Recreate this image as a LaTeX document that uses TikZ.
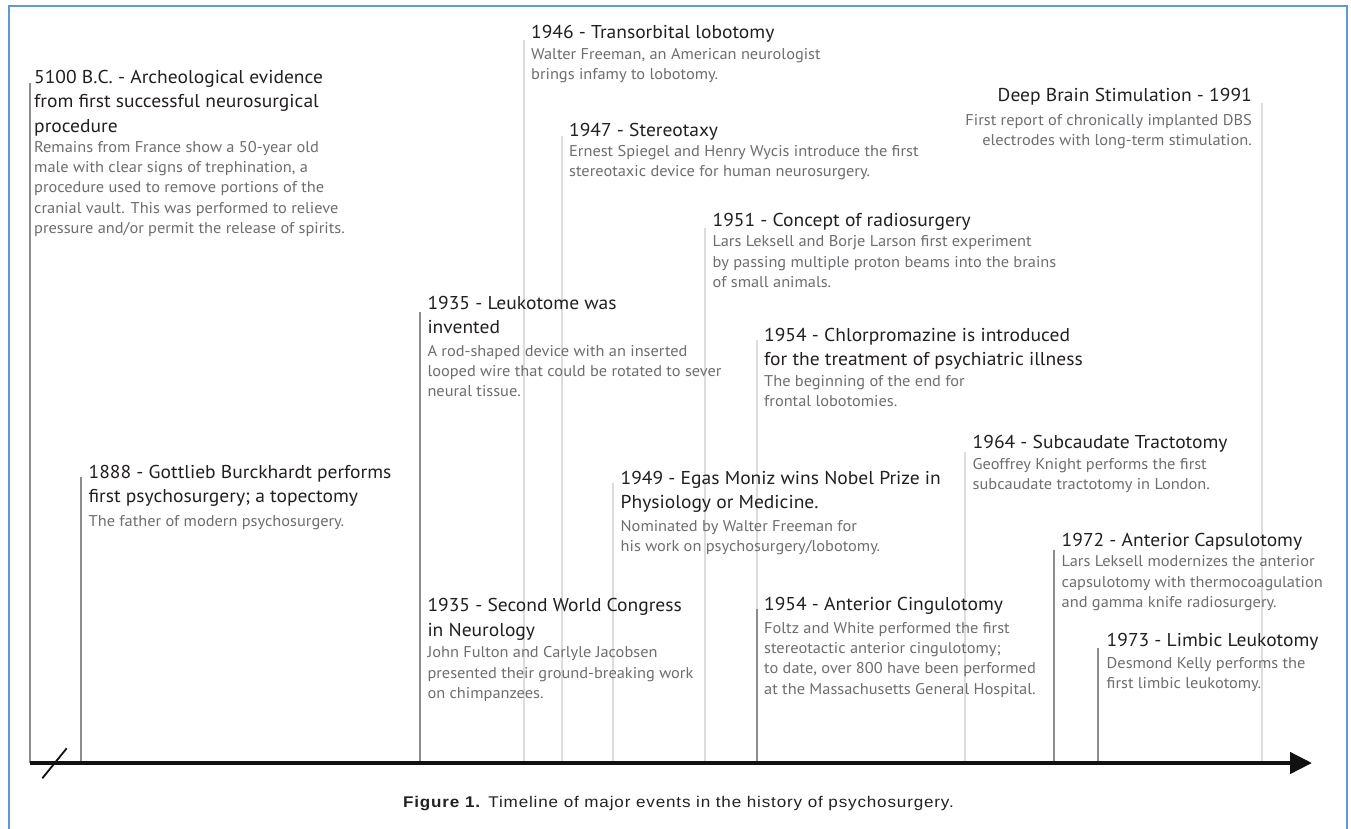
\documentclass[tikz,border=0pt]{standalone}
\usepackage{fontspec}
\usepackage{graphicx}
\setmainfont[FakeStretch=1.05]{PT Sans}
\newfontfamily\capfont[LetterSpace=5]{Liberation Sans}
\usetikzlibrary{arrows.meta}
\definecolor{tcol}{HTML}{231F20}
\definecolor{bcol}{HTML}{6D6E71}
\definecolor{dline}{HTML}{8C8C8C}
\definecolor{lline}{HTML}{DCDCDC}
\definecolor{framecol}{HTML}{5B9BD5}
\definecolor{axcol}{HTML}{111111}
\definecolor{capcol}{HTML}{222222}
\newcommand\ml[1]{\begin{tabular}[t]{@{}l@{}}#1\end{tabular}}
\newcommand\mr[1]{\begin{tabular}[t]{@{}r@{}}#1\end{tabular}}
\tikzset{
  ttl/.style={inner sep=0pt, text=tcol, font=\fontsize{18.6}{24.5}\selectfont, anchor=base west},
  bdy/.style={inner sep=0pt, text=bcol, font=\fontsize{15.6}{20.4}\selectfont, anchor=base west},
  dk/.style={draw=dline, line width=2pt},
  lt/.style={draw=lline, line width=2pt},
}
\begin{document}
\begin{tikzpicture}[x=1pt,y=-1pt]
\useasboundingbox[fill=white] (0,0) rectangle (1351,828);
% frame
\draw[framecol, line width=1.5pt] (9,830) -- (9,6) -- (1347,6) -- (1347,830);
% axis reference
\coordinate (ax) at (0,763);
% vertical event lines
\coordinate (l1) at (30,83);      \draw[dk] (l1) -- (l1 |- ax);
\coordinate (l2) at (81,477);     \draw[dk] (l2) -- (l2 |- ax);
\coordinate (l3) at (420,312);    \draw[dk] (l3) -- (l3 |- ax);
\coordinate (l4) at (524.3,40);   \draw[lt] (l4) -- (l4 |- ax);
\coordinate (l5) at (562,136);    \draw[lt] (l5) -- (l5 |- ax);
\coordinate (l6) at (612.7,483);  \draw[lt] (l6) -- (l6 |- ax);
\coordinate (l7) at (705,228);    \draw[lt] (l7) -- (l7 |- ax);
\coordinate (l8) at (756.7,340);  \draw[lt] (l8) -- (l8 |- ax);
\coordinate (l9) at (756.7,609);  \draw[dk] (l9) -- (l9 |- ax);
\coordinate (l10) at (965,452);   \draw[lt] (l10) -- (l10 |- ax);
\coordinate (l11) at (1054.3,550);\draw[dk] (l11) -- (l11 |- ax);
\coordinate (l12) at (1098.3,648);\draw[dk] (l12) -- (l12 |- ax);
\coordinate (l13) at (1261.7,103);\draw[lt] (l13) -- (l13 |- ax);
% axis
\coordinate (a0) at (30,763);
\coordinate (a1) at (1312,763);
\draw[axcol, line width=4.5pt, -{Triangle[length=22pt,width=21pt]}] (a0) -- (a1);
\coordinate (s0) at (42.3,778.3);
\coordinate (s1) at (66.7,748.3);
\draw[axcol, line width=1.8pt] (s0) -- (s1);
% events
\node[ttl] (e1t) at (34,83) {\ml{5100 B.C. - Archeological evidence\\from first successful neurosurgical\\procedure}};
\node[bdy] (e1b) at (34,152) {\ml{Remains from France show a 50-year old\\male with clear signs of trephination, a\\procedure used to remove portions of the\\cranial vault. This was performed to relieve\\pressure and/or permit the release of spirits.}};
\node[ttl] (e2t) at (88.5,478.3) {\ml{1888 - Gottlieb Burckhardt performs\\first psychosurgery; a topectomy}};
\node[bdy] (e2b) at (88.5,526) {\ml{The father of modern psychosurgery.}};
\node[ttl] (e3t) at (427.3,309.3) {\ml{1935 - Leukotome was\\invented}};
\node[bdy] (e3b) at (427.3,356) {\ml{A rod-shaped device with an inserted\\looped wire that could be rotated to sever\\neural tissue.}};
\node[ttl] (e4t) at (427.3,611.7) {\ml{1935 - Second World Congress\\in Neurology}};
\node[bdy] (e4b) at (427.3,657.7) {\ml{John Fulton and Carlyle Jacobsen\\presented their ground-breaking work\\on chimpanzees.}};
\node[ttl] (e5t) at (531,38) {\ml{1946 - Transorbital lobotomy}};
\node[bdy] (e5b) at (531,59.3) {\ml{Walter Freeman, an American neurologist\\brings infamy to lobotomy.}};
\node[ttl] (e6t) at (569,136) {\ml{1947 - Stereotaxy}};
\node[bdy] (e6b) at (569,156) {\ml{Ernest Spiegel and Henry Wycis introduce the first\\stereotaxic device for human neurosurgery.}};
\node[ttl] (e7t) at (712.5,226.7) {\ml{1951 - Concept of radiosurgery}};
\node[bdy] (e7b) at (712.5,246.7) {\ml{Lars Leksell and Borje Larson first experiment\\by passing multiple proton beams into the brains\\of small animals.}};
\node[ttl] (e8t) at (764,341) {\ml{1954 - Chlorpromazine is introduced\\for the treatment of psychiatric illness}};
\node[bdy] (e8b) at (764,386) {\ml{The beginning of the end for\\frontal lobotomies.}};
\node[ttl] (e9t) at (620.5,484.3) {\ml{1949 - Egas Moniz wins Nobel Prize in\\Physiology or Medicine.}};
\node[bdy] (e9b) at (620.5,531) {\ml{Nominated by Walter Freeman for\\his work on psychosurgery/lobotomy.}};
\node[ttl] (e10t) at (764,610) {\ml{1954 - Anterior Cingulotomy}};
\node[bdy] (e10b) at (764,633) {\ml{Foltz and White performed the first\\stereotactic anterior cingulotomy;\\to date, over 800 have been performed\\at the Massachusetts General Hospital.}};
\node[ttl] (e11t) at (972.5,448.3) {\ml{1964 - Subcaudate Tractotomy}};
\node[bdy] (e11b) at (972.5,469.5) {\ml{Geoffrey Knight performs the first\\subcaudate tractotomy in London.}};
\node[ttl] (e12t) at (1061.5,546) {\ml{1972 - Anterior Capsulotomy}};
\node[bdy] (e12b) at (1061.5,566.7) {\ml{Lars Leksell modernizes the anterior\\capsulotomy with thermocoagulation\\and gamma knife radiosurgery.}};
\node[ttl] (e13t) at (1106.5,646.7) {\ml{1973 - Limbic Leukotomy}};
\node[bdy] (e13b) at (1106.5,668.3) {\ml{Desmond Kelly performs the\\first limbic leukotomy.}};
\node[ttl, anchor=base east] (e14t) at (1252,101.7) {\mr{Deep Brain Stimulation - 1991}};
\node[bdy, anchor=base east] (e14b) at (1252,125) {\mr{First report of chronically implanted DBS\\electrodes with long-term stimulation.}};
% caption
\node[anchor=base, inner sep=0pt, text=capcol, font=\capfont\fontsize{15.5}{18}\selectfont] (cap) at (678.5,807) {\scalebox{1.10}[1]{\textbf{Figure 1.} Timeline of major events in the history of psychosurgery.}};
\end{tikzpicture}
\end{document}
